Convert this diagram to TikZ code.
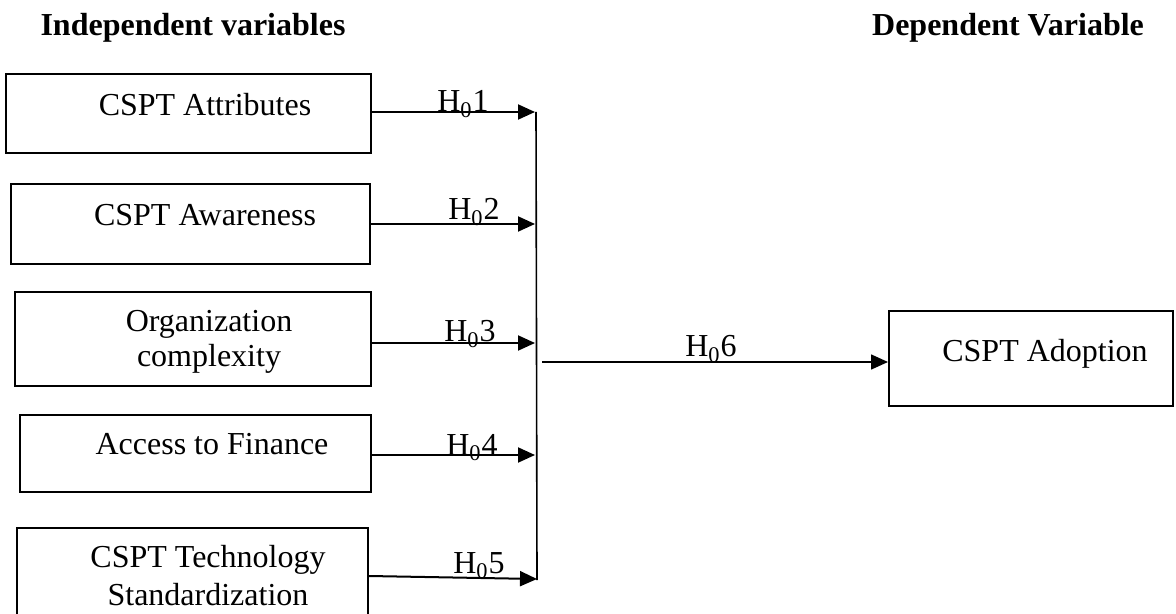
\documentclass[tikz,border=0pt]{standalone}
\usepackage{fontspec}
\setmainfont{Liberation Serif}
\usetikzlibrary{arrows.meta}
\begin{document}
\begin{tikzpicture}[x=0.5pt,y=-0.5pt,
  varbox/.style={draw,line width=1pt,inner sep=0pt,anchor=center},
  boxtext/.style={inner sep=0pt,font=\fontsize{16pt}{19pt}\selectfont},
  heading/.style={inner sep=0pt,anchor=base,font=\fontsize{16pt}{19pt}\selectfont\bfseries},
  hyp/.style={inner sep=0pt,anchor=base,font=\fontsize{16pt}{19pt}\selectfont},
  arr/.style={line width=1pt,-{Triangle[length=8.5pt,width=7.5pt]}},
  joinline/.style={line width=0.8pt}]
\useasboundingbox (0,0) rectangle (1176,614);

% headings
\node[heading] (hind) at (193,36) {Independent variables};
\node[heading] (hdep) at (1008,36) {Dependent Variable};

% independent variable boxes
\node[varbox,minimum width=182.5pt,minimum height=39.5pt] (b1) at (188.5,113.5) {};
\node[varbox,minimum width=179.5pt,minimum height=40pt] (b2) at (190.5,224) {};
\node[varbox,minimum width=178pt,minimum height=47pt] (b3) at (193,339) {};
\node[varbox,minimum width=175.5pt,minimum height=38.5pt] (b4) at (195.5,453.5) {};
\node[varbox,minimum width=175.5pt,minimum height=56pt] (b5) at (192.5,584) {};
% dependent variable box
\node[varbox,minimum width=142pt,minimum height=47.5pt] (b6) at (1031,358.5) {};

% box texts
\node[boxtext,anchor=base] (t1) at (205,116) {CSPT Attributes};
\node[boxtext,anchor=base] (t2) at (205,226) {CSPT Awareness};
\node[boxtext,align=center,font=\fontsize{16pt}{17.5pt}\selectfont] (t3) at (209,342) {Organization\\complexity};
\node[boxtext,anchor=base] (t4) at (212,454) {Access to Finance};
\node[boxtext,align=center] (t5) at (208,576) {CSPT Technology\\Standardization};
\node[boxtext,anchor=base] (t6) at (1045,361) {CSPT Adoption};

% junction points on the collecting line
\coordinate (j1) at (535,112);
\coordinate (j2) at (535,224);
\coordinate (j3) at (535,343);
\coordinate (j4) at (535,455);
\coordinate (j5) at (537,579);
\coordinate (vtop) at (536,112);
\coordinate (vbot) at (537,580);
\coordinate (hub) at (542,362);

% arrows into the collecting line
\draw[arr] (b1.east |- j1) -- (j1);
\draw[arr] (b2.east |- j2) -- (j2);
\draw[arr] (b3.east |- j3) -- (j3);
\draw[arr] (b4.east |- j4) -- (j4);
\draw[arr] ([yshift=4pt]b5.east) -- (j5);
\draw[joinline] (vtop) -- (vbot);
\draw[arr,line width=0.8pt] (hub) -- (b6.west |- hub);

% hypothesis labels
\node[hyp] (h1) at (463,112) {H\textsubscript{0}1};
\node[hyp] (h2) at (474,220) {H\textsubscript{0}2};
\node[hyp] (h3) at (470,342) {H\textsubscript{0}3};
\node[hyp] (h4) at (472,455) {H\textsubscript{0}4};
\node[hyp] (h5) at (479,573) {H\textsubscript{0}5};
\node[hyp] (h6) at (711,357) {H\textsubscript{0}6};
\end{tikzpicture}
\end{document}
